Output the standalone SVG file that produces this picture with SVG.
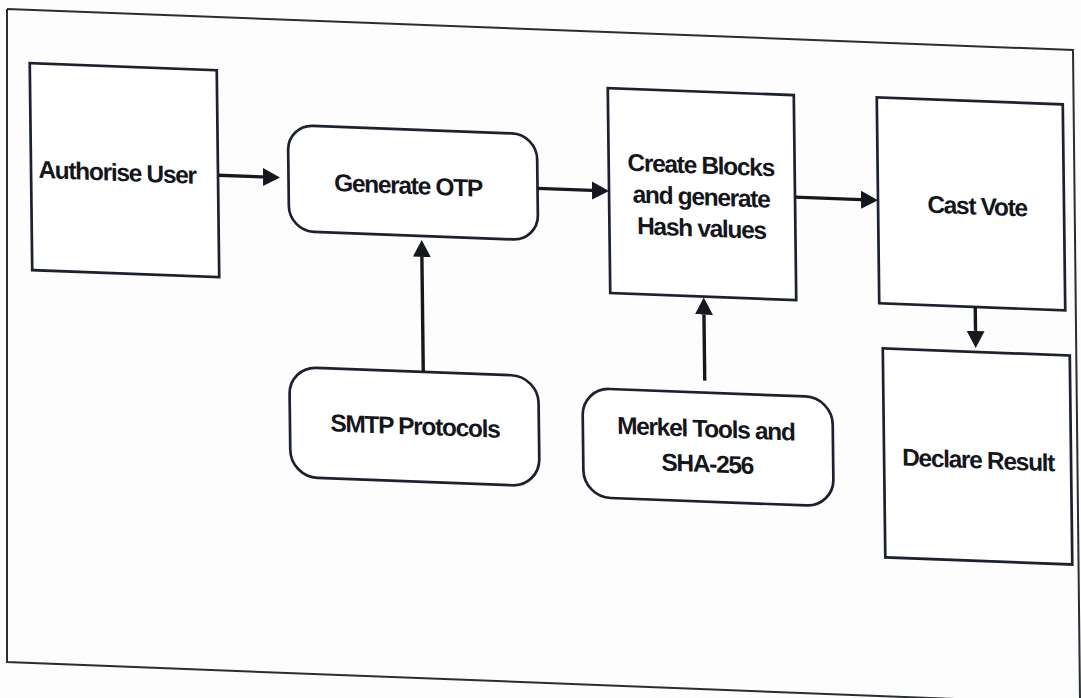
<svg xmlns="http://www.w3.org/2000/svg" width="1081" height="698" viewBox="0 0 1081 698">
  <style>
    .box { fill: #ffffff; stroke: #1b2130; stroke-width: 2.7; }
    .lbl { font-family: "Liberation Sans", Arial, sans-serif; font-weight: bold; font-size: 24.5px; letter-spacing: -1.3px; fill: #14161c; text-anchor: middle; }
    .wire { stroke: #15181f; stroke-width: 3.4; fill: none; }
  </style>
  <defs>
    <marker id="head" markerUnits="userSpaceOnUse" markerWidth="20" markerHeight="20" refX="0" refY="9" orient="auto">
      <path d="M0,0 L17,9 L0,18 z" fill="#15181f"/>
    </marker>
  </defs>

  <rect x="0" y="0" width="1081" height="698" fill="#fdfdfd"/>

  <!-- page border -->
  <path d="M7,9 L1073,50 L1080,700 M7,9 L7,662 L1084,704" fill="none" stroke="#2a2d33" stroke-width="2"/>

  <!-- slightly skewed page plane -->
  <g transform="matrix(1,0.038,0.012,1,0,0)">
    <g id="authorise-user">
      <rect class="box" x="29" y="62" width="187" height="207"/>
      <text class="lbl" x="115" y="176.5">Authorise User</text>
    </g>
    <g id="generate-otp">
      <rect class="box" x="286.5" y="114" width="249" height="106" rx="25" ry="25"/>
      <text class="lbl" x="406" y="178.5">Generate OTP</text>
    </g>
    <g id="create-blocks">
      <rect class="box" x="607" y="65" width="186" height="205"/>
      <text class="lbl" x="699" y="147">Create Blocks</text>
      <text class="lbl" x="699" y="178.5">and generate</text>
      <text class="lbl" x="699" y="210">Hash values</text>
    </g>
    <g id="cast-vote">
      <rect class="box" x="876" y="64" width="186" height="206"/>
      <text class="lbl" x="975" y="177.5">Cast Vote</text>
    </g>
    <g id="declare-result">
      <rect class="box" x="879" y="315" width="187" height="209"/>
      <text class="lbl" x="973" y="431.5">Declare Result</text>
    </g>
    <g id="smtp-protocols">
      <rect class="box" x="285" y="356" width="249" height="110" rx="27" ry="27"/>
      <text class="lbl" x="410" y="419">SMTP Protocols</text>
    </g>
    <g id="merkel-tools">
      <rect class="box" x="578" y="366" width="250" height="109" rx="27" ry="27"/>
      <text class="lbl" x="701" y="410.5">Merkel Tools and</text>
      <text class="lbl" x="702" y="445.5">SHA-256</text>
    </g>

    <g id="connectors">
      <line class="wire" x1="216" y1="167" x2="261" y2="167" marker-end="url(#head)"/>
      <line class="wire" x1="535.5" y1="168" x2="590" y2="168" marker-end="url(#head)"/>
      <line class="wire" x1="793" y1="167" x2="859" y2="167" marker-end="url(#head)"/>
      <line class="wire" x1="972" y1="270" x2="972" y2="294" marker-end="url(#head)"/>
      <line class="wire" x1="419" y1="356" x2="419" y2="241" marker-end="url(#head)"/>
      <line class="wire" x1="700.5" y1="354" x2="700.5" y2="288" marker-end="url(#head)"/>
    </g>
  </g>
</svg>
